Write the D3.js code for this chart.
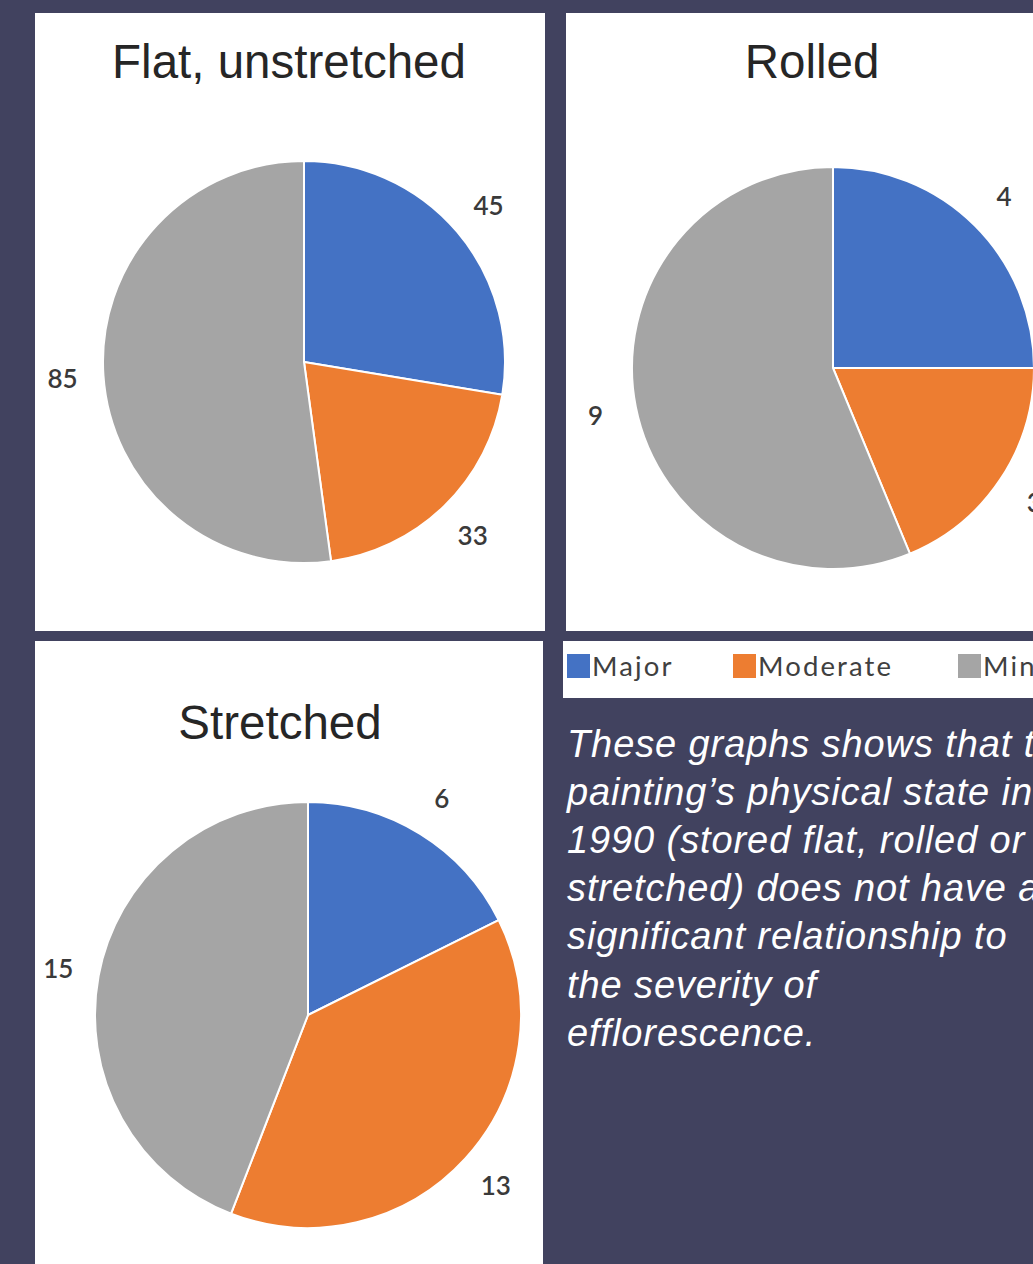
<!DOCTYPE html>
<html>
<head>
<meta charset="utf-8">
<script src="https://cdn.jsdelivr.net/npm/d3@7"></script>
<style>
  html, body { margin: 0; padding: 0; background: #41425f; overflow: hidden; }
  svg { display: block; }
</style>
</head>
<body>
<svg id="chart" width="1033" height="1264"></svg>
<script>
// ---- data ----
const categories = ["Major", "Moderate", "Minor"];
const colors = ["#4472c4", "#ed7d31", "#a5a5a5"];
const chartTitles = ["Flat, unstretched", "Rolled", "Stretched"];
const flatValues = [45, 33, 85];
const rolledValues = [4, 3, 9];
const stretchedValues = [6, 13, 15];
const noteLines = [
  "These graphs shows that the",
  "painting\u2019s physical state in",
  "1990 (stored flat, rolled or",
  "stretched) does not have a",
  "significant relationship to",
  "the severity of",
  "efflorescence."
];

// ---- layout ----
const svg = d3.select("#chart");
const W = 1033, H = 1264;
svg.append("rect").attr("width", W).attr("height", H).attr("fill", "#41425f");

const panels = [
  { values: flatValues, title: chartTitles[0], x: 35, y: 13, w: 510, h: 618, cx: 304, cy: 362, r: 201, tx: 289, ty: 78 },
  { values: rolledValues, title: chartTitles[1], x: 566, y: 13, w: 520, h: 618, cx: 833, cy: 368, r: 201, tx: 812, ty: 78 },
  { values: stretchedValues, title: chartTitles[2], x: 35, y: 641, w: 508, h: 640, cx: 308, cy: 1015, r: 213, tx: 280, ty: 739 }
];

const color = d3.scaleOrdinal().domain(categories).range(colors);
const pie = d3.pie().sort(null).value(d => d.value);

panels.forEach(p => {
  svg.append("rect")
    .attr("x", p.x).attr("y", p.y).attr("width", p.w).attr("height", p.h)
    .attr("fill", "#ffffff");

  svg.append("text")
    .attr("x", p.tx).attr("y", p.ty)
    .attr("text-anchor", "middle")
    .attr("font-family", "'Liberation Sans', Arial, sans-serif")
    .attr("font-size", 47.5)
    .attr("fill", "#262626")
    .text(p.title);

  const data = categories.map((c, i) => ({ cat: c, value: p.values[i] }));
  const arcs = pie(data);
  const arc = d3.arc().innerRadius(0).outerRadius(p.r);
  const labelArc = d3.arc().innerRadius(p.r + 41).outerRadius(p.r + 41);

  const g = svg.append("g").attr("transform", `translate(${p.cx},${p.cy})`);
  g.selectAll("path").data(arcs).join("path")
    .attr("d", arc)
    .attr("fill", d => color(d.data.cat))
    .attr("stroke", "#ffffff")
    .attr("stroke-width", 2);

  g.selectAll("text").data(arcs).join("text")
    .attr("transform", d => `translate(${labelArc.centroid(d)})`)
    .attr("text-anchor", "middle")
    .attr("dy", "0.36em")
    .attr("font-family", "Lato, 'Open Sans', sans-serif")
    .attr("font-size", 26)
    .attr("font-weight", 600)
    .attr("fill", "#3a3a3a")
    .text(d => d.data.value);
});

// ---- legend ----
svg.append("rect")
  .attr("x", 563).attr("y", 641).attr("width", 480).attr("height", 57)
  .attr("fill", "#ffffff");
const legendX = [567, 733, 958];
const lg = svg.append("g");
categories.forEach((c, i) => {
  lg.append("rect")
    .attr("x", legendX[i]).attr("y", 654).attr("width", 23).attr("height", 24)
    .attr("fill", color(c));
  lg.append("text")
    .attr("x", legendX[i] + 25).attr("y", 676)
    .attr("font-family", "Lato, 'Open Sans', sans-serif")
    .attr("font-size", 27.5)
    .attr("letter-spacing", 2.1)
    .attr("fill", "#404040")
    .text(c);
});

// ---- note text ----
const note = svg.append("text")
  .attr("font-family", "'Liberation Sans', Arial, sans-serif")
  .attr("font-style", "italic")
  .attr("font-size", 38)
  .attr("letter-spacing", 0.9)
  .attr("fill", "#ffffff");
noteLines.forEach((line, i) => {
  note.append("tspan")
    .attr("x", 567)
    .attr("y", 757 + i * 48.1)
    .text(line);
});
</script>
</body>
</html>
